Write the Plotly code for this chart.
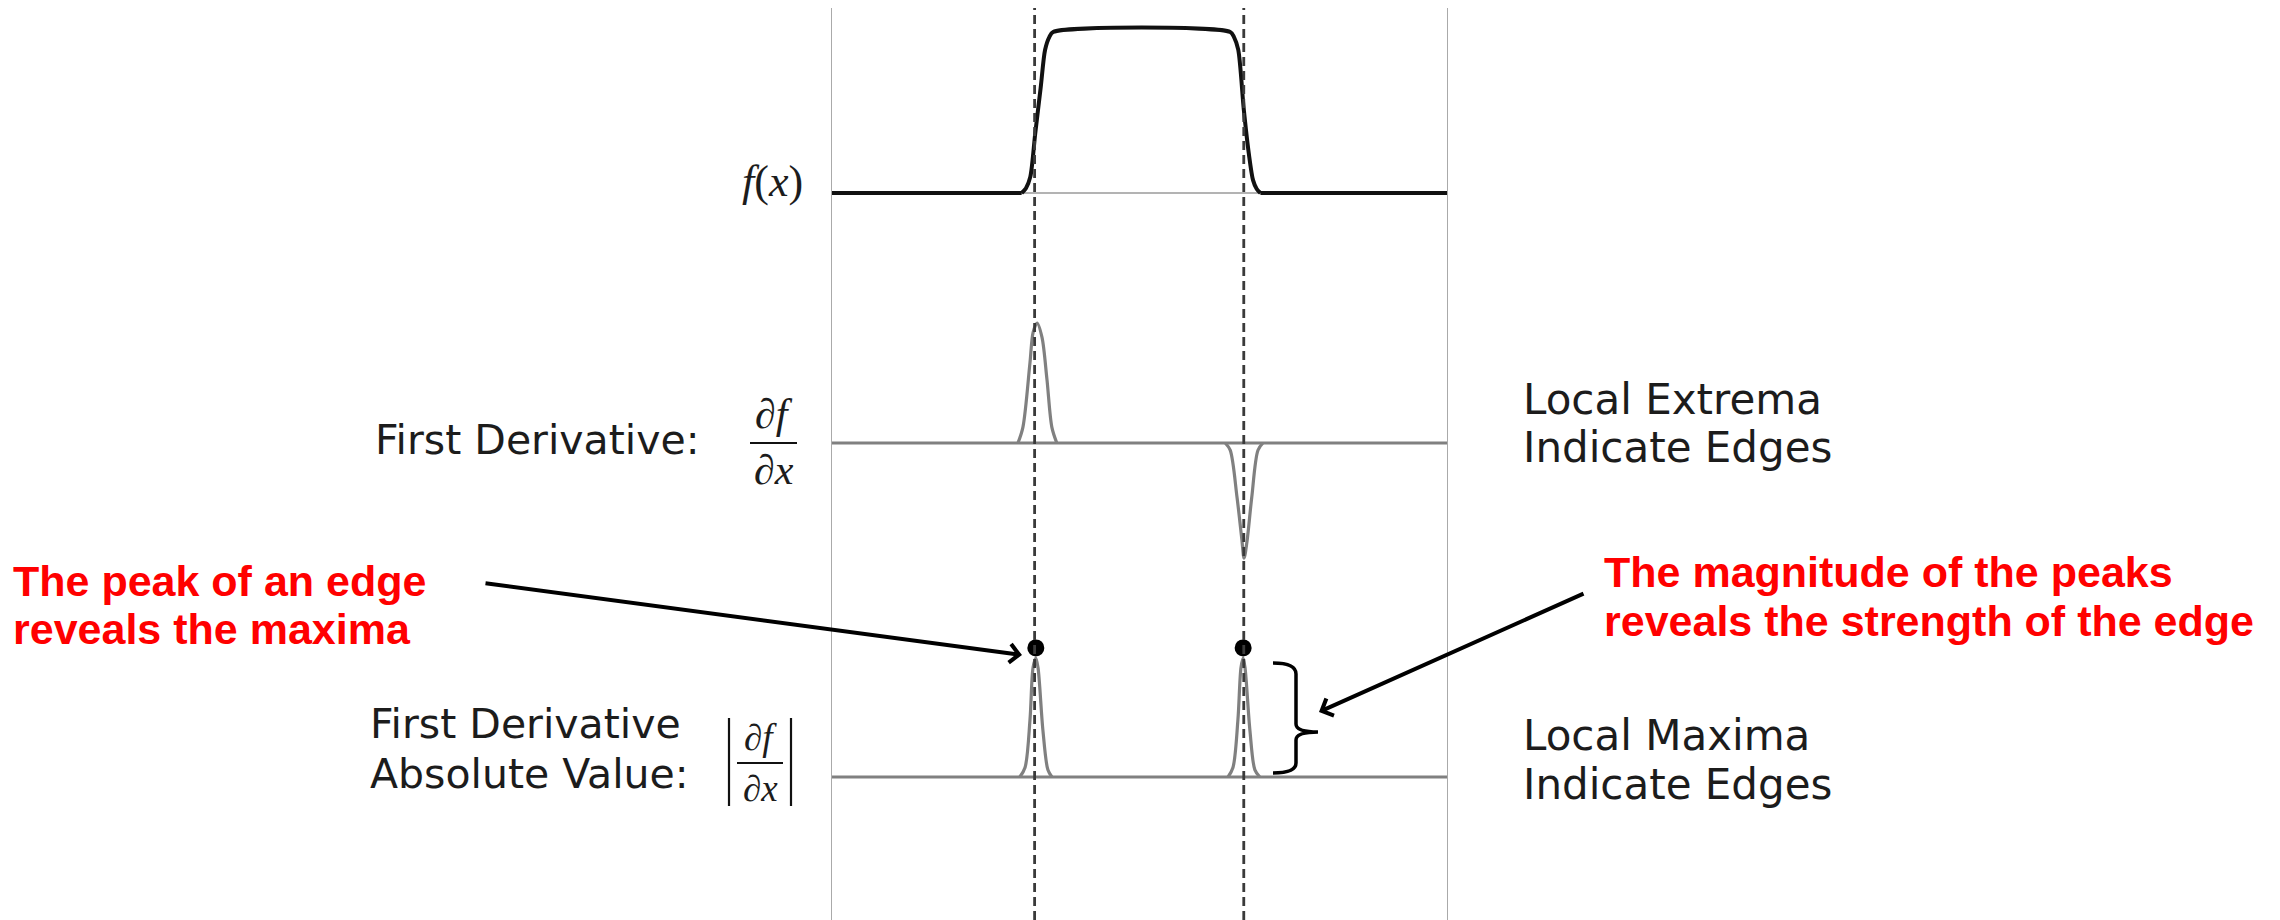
import plotly.graph_objects as go

# ---------------- data ----------------
# horizontal position across the panel: 0 = left border, 100 = right border
edge_positions = [33.0, 66.9]

# f(x): smoothed step (flat parts + the raised block)
flat_left_x = [0, 30.9]
flat_right_x = [69.6, 100]
flat_f = [0, 0]
step_x = [30.9, 31.6, 32.3, 33.1, 34.0, 34.7, 35.4, 36.0,
          64.7, 65.3, 66.0, 66.9, 67.7, 68.4, 69.0, 69.6]
step_f = [0, 0.03, 0.10, 0.37, 0.66, 0.89, 0.97, 1.0,
          1.0, 0.97, 0.89, 0.52, 0.25, 0.08, 0.025, 0]

# first derivative (positive peak at rising edge, negative at falling edge)
d1_pos_x = [30.3, 31.1, 32.25, 32.75, 33.4, 34.2, 35.0, 35.8, 36.6]
d1_pos_v = [0, 0.13, 0.67, 0.92, 1.0, 0.88, 0.53, 0.13, 0]
d1_neg_x = [63.9, 64.7, 65.8, 66.6, 66.95, 67.4, 68.2, 69.2, 70.0]
d1_neg_v = [0, -0.06, -0.45, -0.81, -0.96, -0.83, -0.45, -0.06, 0]

# absolute value of first derivative
abs1_x = [30.6, 31.45, 32.25, 32.75, 33.2, 33.55, 34.35, 35.15, 35.8]
abs1_v = [0, 0.08, 0.48, 0.92, 1.0, 0.92, 0.39, 0.06, 0]
abs2_x = [64.35, 65.15, 65.95, 66.45, 66.8, 67.1, 67.9, 68.7, 69.5]
abs2_v = [0, 0.08, 0.48, 0.92, 1.0, 0.92, 0.39, 0.06, 0]

# maxima markers
peak_x = [33.2, 66.8]
peak_v = [1.085, 1.085]

baseline_x = [0, 100]
baseline_v = [0, 0]

# ---------------- layout helpers ----------------
OFF = 8                      # page body margin
W, H = 2280 - OFF, 920 - OFF


def X(px):
    return (px - OFF) / W


def Y(py):
    return 1 - (py - OFF) / H


GRAY = "#808080"
TXT = "#1c1c1c"
RED = "#ff0000"

fig = go.Figure()

# top panel: thin axis + black step
fig.add_trace(go.Scatter(x=baseline_x, y=baseline_v, mode="lines",
                         line=dict(color="#9a9a9a", width=1.7),
                         xaxis="x", yaxis="y", hoverinfo="skip"))
for xs in [flat_left_x, flat_right_x]:
    fig.add_trace(go.Scatter(x=xs, y=flat_f, mode="lines",
                             line=dict(color="#111111", width=4),
                             xaxis="x", yaxis="y", hoverinfo="skip"))
fig.add_trace(go.Scatter(x=step_x, y=step_f, mode="lines",
                         line=dict(color="#111111", width=4, shape="spline", smoothing=0.8),
                         xaxis="x", yaxis="y", hoverinfo="skip"))

# middle panel: derivative
fig.add_trace(go.Scatter(x=baseline_x, y=baseline_v, mode="lines",
                         line=dict(color=GRAY, width=3.2),
                         xaxis="x", yaxis="y2", hoverinfo="skip"))
for xs, vs in [(d1_pos_x, d1_pos_v), (d1_neg_x, d1_neg_v)]:
    fig.add_trace(go.Scatter(x=xs, y=vs, mode="lines",
                             line=dict(color=GRAY, width=3.2, shape="spline", smoothing=0.9),
                             xaxis="x", yaxis="y2", hoverinfo="skip"))

# bottom panel: absolute derivative
fig.add_trace(go.Scatter(x=baseline_x, y=baseline_v, mode="lines",
                         line=dict(color=GRAY, width=3.2),
                         xaxis="x", yaxis="y3", hoverinfo="skip"))
for xs, vs in [(abs1_x, abs1_v), (abs2_x, abs2_v)]:
    fig.add_trace(go.Scatter(x=xs, y=vs, mode="lines",
                             line=dict(color=GRAY, width=3.2, shape="spline", smoothing=0.9),
                             xaxis="x", yaxis="y3", hoverinfo="skip"))
fig.add_trace(go.Scatter(x=peak_x, y=peak_v, mode="markers",
                         marker=dict(color="#000000", size=17),
                         xaxis="x", yaxis="y3", hoverinfo="skip"))

shapes = []
# panel borders
for xv in [0, 100]:
    shapes.append(dict(type="line", xref="x", yref="paper", x0=xv, x1=xv,
                       y0=0, y1=Y(8), line=dict(color="#aaaaaa", width=2)))
# dashed edge markers
for xv in edge_positions:
    shapes.append(dict(type="line", xref="x", yref="paper", x0=xv, x1=xv,
                       y0=0, y1=Y(6), line=dict(color="#3a3a3a", width=2.8, dash="9px,5px")))
# fraction bars
shapes.append(dict(type="line", xref="paper", yref="paper", x0=X(750), x1=X(797),
                   y0=Y(443), y1=Y(443), line=dict(color="#111111", width=2)))
shapes.append(dict(type="line", xref="paper", yref="paper", x0=X(737), x1=X(783),
                   y0=Y(763), y1=Y(763), line=dict(color="#111111", width=2)))
# absolute value bars
for xp in [729, 791]:
    shapes.append(dict(type="line", xref="paper", yref="paper", x0=X(xp), x1=X(xp),
                       y0=Y(718), y1=Y(806), line=dict(color="#111111", width=2.2)))


def P(px, py):
    return f"{X(px):.5f},{Y(py):.5f}"


brace = ("M " + P(1273, 663) + " Q " + P(1296, 663) + " " + P(1296, 674) +
         " L " + P(1296, 724) + " Q " + P(1296, 732) + " " + P(1318, 732) +
         " Q " + P(1296, 732) + " " + P(1296, 740) +
         " L " + P(1296, 763) + " Q " + P(1296, 773) + " " + P(1273, 773))
shapes.append(dict(type="path", xref="paper", yref="paper", path=brace,
                   line=dict(color="#000000", width=3.5)))

annotations = []


def label(text, px, py, size, color=TXT, family="DejaVu Sans", xanchor="left"):
    annotations.append(dict(text=text, x=X(px), y=Y(py), xref="paper", yref="paper",
                            xanchor=xanchor, yanchor="middle", showarrow=False,
                            borderpad=0, font=dict(family=family, size=size, color=color)))


SERIF = "Liberation Serif, DejaVu Serif, serif"
label("<i>f</i>(<i>x</i>)", 804, 182, 44, family=SERIF, xanchor="right")
label("First Derivative:", 374, 440, 41)
label("<i>∂f</i>", 774, 414, 42, family=SERIF, xanchor="center")
label("<i>∂x</i>", 774, 470, 42, family=SERIF, xanchor="center")
label("First Derivative", 369, 724, 41)
label("Absolute Value:", 369, 774, 41)
label("<i>∂f</i>", 760, 737, 37, family=SERIF, xanchor="center")
label("<i>∂x</i>", 760, 788, 37, family=SERIF, xanchor="center")
label("Local Extrema", 1522, 399, 42)
label("Indicate Edges", 1522, 448, 42)
label("Local Maxima", 1522, 735, 42)
label("Indicate Edges", 1522, 784, 42)

RFONT = "Liberation Sans, Arial, sans-serif"
label("<b>The peak of an edge</b>", 12, 581, 43, color=RED, family=RFONT)
label("<b>reveals the maxima</b>", 12, 629, 43, color=RED, family=RFONT)
label("<b>The magnitude of the peaks</b>", 1603, 572, 43, color=RED, family=RFONT)
label("<b>reveals the strength of the edge</b>", 1603, 621, 43, color=RED, family=RFONT)

# arrows
for tip, tail in [((1022, 655), (484, 583)), ((1319, 712), (1585, 593))]:
    annotations.append(dict(text="", x=X(tip[0]), y=Y(tip[1]), xref="paper", yref="paper",
                            ax=tail[0] - tip[0], ay=tail[1] - tip[1], axref="pixel", ayref="pixel",
                            showarrow=True, arrowhead=4, arrowsize=0.9, arrowwidth=4,
                            arrowcolor="#000000", standoff=0, startstandoff=0))

hidden = dict(visible=False, showgrid=False, zeroline=False, fixedrange=True)
fig.update_layout(
    width=W, height=H,
    margin=dict(l=0, r=0, t=0, b=0),
    paper_bgcolor="white", plot_bgcolor="rgba(0,0,0,0)",
    showlegend=False,
    xaxis=dict(domain=[X(831), X(1448)], range=[0, 100], **hidden),
    yaxis=dict(domain=[Y(250), 1], range=[(193 - 250) / 161, (193 - OFF) / 161], **hidden),
    yaxis2=dict(domain=[Y(600), Y(250)], range=[(443 - 600) / 120, (443 - 250) / 120], **hidden),
    yaxis3=dict(domain=[0, Y(600)], range=[(777 - 920) / 119, (777 - 600) / 119], **hidden),
    shapes=shapes,
    annotations=annotations,
)

fig.write_html("out.html", config={"displayModeBar": False})
